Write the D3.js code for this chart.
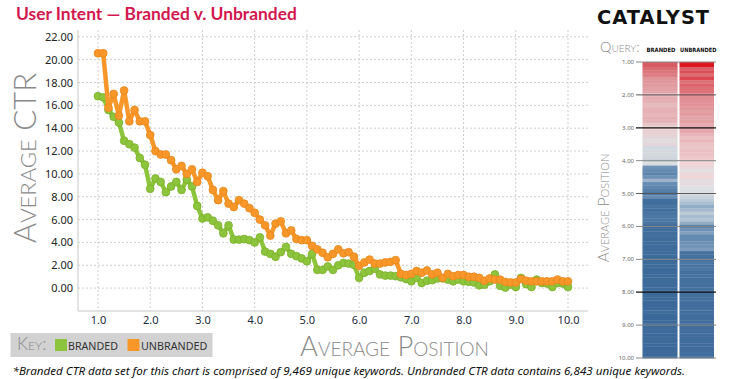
<!DOCTYPE html>
<html><head><meta charset="utf-8">
<script src="https://cdn.jsdelivr.net/npm/d3@7"></script>
<style>
html,body{margin:0;padding:0;background:#fff;}
svg{display:block;}
</style></head>
<body>
<svg id="c" width="730" height="379"></svg>
<script>
// ---------- DATA ----------
const positions = [1.0,1.1,1.2,1.3,1.4,1.5,1.6,1.7,1.8,1.9,2.0,2.1,2.2,2.3,2.4,2.5,2.6,2.7,2.8,2.9,3.0,3.1,3.2,3.3,3.4,3.5,3.6,3.7,3.8,3.9,4.0,4.1,4.2,4.3,4.4,4.5,4.6,4.7,4.8,4.9,5.0,5.1,5.2,5.3,5.4,5.5,5.6,5.7,5.8,5.9,6.0,6.1,6.2,6.3,6.4,6.5,6.6,6.7,6.8,6.9,7.0,7.1,7.2,7.3,7.4,7.5,7.6,7.7,7.8,7.9,8.0,8.1,8.2,8.3,8.4,8.5,8.6,8.7,8.8,8.9,9.0,9.1,9.2,9.3,9.4,9.5,9.6,9.7,9.8,9.9,10.0];
const branded = [16.8,16.7,15.6,15.0,14.5,12.9,12.6,12.3,11.4,10.8,8.7,9.6,9.3,8.4,8.9,9.3,8.6,9.5,8.9,7.2,6.1,6.2,5.9,5.5,4.8,5.5,4.25,4.25,4.3,4.2,4.0,4.45,3.2,3.0,2.75,3.15,3.6,3.0,2.8,2.6,2.35,3.0,1.6,1.6,1.9,1.6,2.0,2.2,2.15,2.05,0.9,1.35,1.5,1.7,1.2,1.1,1.1,1.05,
  0.95,0.8,0.6,0.9,0.45,0.65,0.7,0.85,0.85,0.75,0.6,0.75,0.6,0.55,0.5,0.25,0.3,0.6,1.2,0.2,0.05,0.3,0.1,0.9,0.35,0.1,0.75,0.45,0.4,0.1,0.45,0.4,0.1];
const unbranded = [20.56,20.56,15.8,17.0,15.1,17.3,14.6,15.6,14.6,14.6,13.4,12.0,11.7,11.7,11.2,10.4,10.7,10.0,10.4,9.3,10.1,9.8,8.6,7.7,8.5,7.4,7.1,7.7,7.4,7.0,6.6,6.0,5.5,4.6,5.65,5.85,4.8,5.05,4.3,4.2,4.2,3.7,3.4,3.1,2.7,3.0,3.4,3.05,3.15,2.75,1.95,2.25,2.5,2.15,2.15,2.25,2.3,2.45,
  1.25,1.15,1.25,1.5,1.35,1.55,1.2,1.35,0.9,1.25,1.05,1.15,1.15,1.0,1.0,0.9,0.65,0.85,0.75,0.75,0.55,0.5,0.5,0.8,0.65,0.6,0.6,0.6,0.6,0.6,0.75,0.6,0.6];
const yTicks = [0,2,4,6,8,10,12,14,16,18,20,22];
const xTicks = [1,2,3,4,5,6,7,8,9,10];
const heatTicks = [1,2,3,4,5,6,7,8,9,10];
const seriesNames = ["BRANDED","UNBRANDED"];

const title = "User Intent \u2014 Branded v. Unbranded";
const footnote = "*Branded CTR data set for this chart is comprised of 9,469 unique keywords. Unbranded CTR data contains 6,843 unique keywords.";

// ---------- SETUP ----------
const svg = d3.select("#c");
svg.append("rect").attr("width",730).attr("height",379).attr("fill","#fff");

function fit(sel, w){
  const n = sel.node();
  const fs = parseFloat(sel.attr("font-size"));
  const len = n.getComputedTextLength();
  if(len>0) sel.attr("font-size", fs*w/len);
  return sel;
}
const hand = "Lato, 'DejaVu Sans', sans-serif";
const green = "#8cc43c", greenS = "#7bb02c";
const orange = "#f7972a", orangeS = "#e8861a";

// Title
fit(svg.append("text").attr("x",16).attr("y",19.5).attr("font-family","Lato, sans-serif")
  .attr("font-weight",700).attr("font-size",17).attr("fill","#d2184f").text(title), 281);

// Logo
fit(svg.append("text").attr("x",597).attr("y",24).attr("font-family","'DejaVu Sans', sans-serif")
  .attr("font-weight",700).attr("font-size",20).attr("fill","#111").attr("letter-spacing",1).text("CATALYST"), 113);

// ---------- MAIN CHART ----------
const x = d3.scaleLinear().domain([1,10]).range([98,568]);
const y = d3.scaleLinear().domain([-2,22]).range([311,36.8]);
const L = 78, R = 588, T = 30, B = 311;

const g = svg.append("g");
// grid
g.selectAll(".hg").data(yTicks).join("line")
  .attr("x1",L).attr("x2",R).attr("y1",d=>y(d)).attr("y2",d=>y(d))
  .attr("stroke","#cfcfcf").attr("stroke-dasharray","2,2").attr("stroke-width",1);
g.selectAll(".vg").data(xTicks).join("line")
  .attr("x1",d=>x(d)).attr("x2",d=>x(d)).attr("y1",T).attr("y2",B)
  .attr("stroke","#cfcfcf").attr("stroke-dasharray","2,2").attr("stroke-width",1);
// axis lines
g.append("line").attr("x1",L).attr("x2",L).attr("y1",T).attr("y2",B).attr("stroke","#c8c8c8");
g.append("line").attr("x1",L).attr("x2",R).attr("y1",B).attr("y2",B).attr("stroke","#c8c8c8");

// axes (labels)
const ya = g.append("g").attr("transform",`translate(${L},0)`)
  .call(d3.axisLeft(y).tickValues(yTicks).tickFormat(d3.format(".2f")).tickSize(0).tickPadding(5));
ya.select(".domain").remove();
ya.selectAll("text").attr("font-family","'Noto Sans', sans-serif").attr("font-size",11).attr("fill","#222");
const xa = g.append("g").attr("transform",`translate(0,${B})`)
  .call(d3.axisBottom(x).tickValues(xTicks).tickFormat(d3.format(".1f")).tickSize(0).tickPadding(5));
xa.select(".domain").remove();
xa.selectAll("text").attr("font-family","'Noto Sans', sans-serif").attr("font-size",11).attr("fill","#1d2a3a");

// series
const series = [
  {vals: branded, c: green, s: greenS},
  {vals: unbranded, c: orange, s: orangeS}
];
const line = d3.line().x(d=>x(d[0])).y(d=>y(d[1]));
series.forEach(sr=>{
  const pts = positions.map((p,i)=>[p, sr.vals[i]]);
  g.append("path").datum(pts).attr("d",line).attr("fill","none")
    .attr("stroke",sr.c).attr("stroke-width",4.5).attr("stroke-linejoin","round");
  g.append("g").selectAll("circle").data(pts).join("circle")
    .attr("cx",d=>x(d[0])).attr("cy",d=>y(d[1])).attr("r",3.9)
    .attr("fill",sr.c).attr("stroke",sr.s).attr("stroke-width",0.8);
});

// Axis titles
const yt = svg.append("text").attr("font-family",hand).attr("font-weight",300)
  .attr("font-variant","small-caps").attr("font-size",30).attr("fill","#8a8a8a")
  .attr("text-anchor","middle").attr("transform","translate(36,158) rotate(-90)").text("Average CTR");
fit(yt,170);
const xt = svg.append("text").attr("font-family",hand).attr("font-weight",300)
  .attr("font-variant","small-caps").attr("font-size",28).attr("fill","#8a8a8a")
  .attr("x",300).attr("y",356).text("Average Position");
fit(xt,193);

// Key
svg.append("rect").attr("x",10.5).attr("y",333).attr("width",202).attr("height",24).attr("fill","#d2d2d2");
fit(svg.append("text").attr("x",17).attr("y",350).attr("font-family",hand).attr("font-weight",300)
  .attr("font-variant","small-caps").attr("font-size",14).attr("fill","#8a8a8a").text("Key:"),30);
svg.append("rect").attr("x",55).attr("y",339).attr("width",12).attr("height",12).attr("fill",green);
fit(svg.append("text").attr("x",68).attr("y",350).attr("font-family","'Noto Sans', sans-serif")
  .attr("font-size",11).attr("fill","#333").text(seriesNames[0]),50);
svg.append("rect").attr("x",127.5).attr("y",339).attr("width",12).attr("height",12).attr("fill",orange);
fit(svg.append("text").attr("x",141).attr("y",350).attr("font-family","'Noto Sans', sans-serif")
  .attr("font-size",11).attr("fill","#333").text(seriesNames[1]),66.5);

// Footnote
fit(svg.append("text").attr("x",12.5).attr("y",374.5).attr("font-family","'Noto Sans', sans-serif")
  .attr("font-style","italic").attr("font-size",11).attr("fill","#111").text(footnote),673);

// ---------- HEATMAP ----------
const hy = d3.scaleLinear().domain([1,10]).range([62,358]);
const colB = d3.scaleLinear()
  .domain([0,1.5,2.5,3.3,3.9,4.5,6,9,13,17])
  .range(["#3a6898","#3f6d9c","#527ca8","#7395b8","#c6d0d9","#dcdee1","#e8d2d4","#e5b3b7","#df9399","#d6565d"])
  .clamp(true);
const colU = d3.scaleLinear()
  .domain([0,1.2,2.0,2.6,3.3,4.3,6,10,15,20.6])
  .range(["#3d6a9a","#44709e","#5a82ab","#8aa6c3","#b9c8d6","#e0e1e4","#efd4d6","#e3a4a9","#dc6d74","#dc141c"])
  .clamp(true);
const cols = [
  {vals: branded, x0: 642.5, x1: 677.5, col: colB},
  {vals: unbranded, x0: 679.5, x1: 714, col: colU}
];
cols.forEach(cc=>{
  svg.append("g").selectAll("rect").data(positions.map((p,i)=>[p,cc.vals[i]])).join("rect")
    .attr("x",cc.x0).attr("width",cc.x1-cc.x0)
    .attr("y",d=>hy(Math.max(1,d[0]-0.05)))
    .attr("height",d=>hy(Math.min(10,d[0]+0.05))-hy(Math.max(1,d[0]-0.05))+0.3)
    .attr("fill",d=>cc.col(d[1]));
});
// tick lines
svg.append("g").selectAll("line").data(heatTicks).join("line")
  .attr("x1",636).attr("x2",716).attr("y1",d=>hy(d)).attr("y2",d=>hy(d))
  .attr("stroke",d=> (d===3||d===8)?"#111":(d===2||d===5)?"#555":"#8a8a8a")
  .attr("stroke-width",d=> (d===3||d===8)?1.3:1);
svg.append("g").selectAll("text").data(heatTicks).join("text")
  .attr("x",634).attr("y",d=>hy(d)+2).attr("text-anchor","end")
  .attr("font-family","'Noto Sans', sans-serif").attr("font-size",6).attr("fill","#666")
  .text(d3.format(".2f"));
// headers
fit(svg.append("text").attr("x",600).attr("y",52).attr("font-family",hand).attr("font-weight",300)
  .attr("font-variant","small-caps").attr("font-size",10).attr("fill","#8a8a8a").text("Query:"),40);
fit(svg.append("text").attr("x",646.5).attr("y",52).attr("font-family","'Liberation Sans Narrow','DejaVu Sans Condensed',sans-serif")
  .attr("font-weight",700).attr("font-size",6.5).attr("fill","#111").text(seriesNames[0]),29);
fit(svg.append("text").attr("x",680).attr("y",52).attr("font-family","'Liberation Sans Narrow','DejaVu Sans Condensed',sans-serif")
  .attr("font-weight",700).attr("font-size",6.5).attr("fill","#111").text(seriesNames[1]),36.5);
const ap = svg.append("text").attr("font-family",hand).attr("font-weight",300)
  .attr("font-variant","small-caps").attr("font-size",13).attr("fill","#8a8a8a")
  .attr("text-anchor","middle").attr("transform","translate(609,208) rotate(-90)").text("Average Position");
fit(ap,105);
</script>
</body></html>
